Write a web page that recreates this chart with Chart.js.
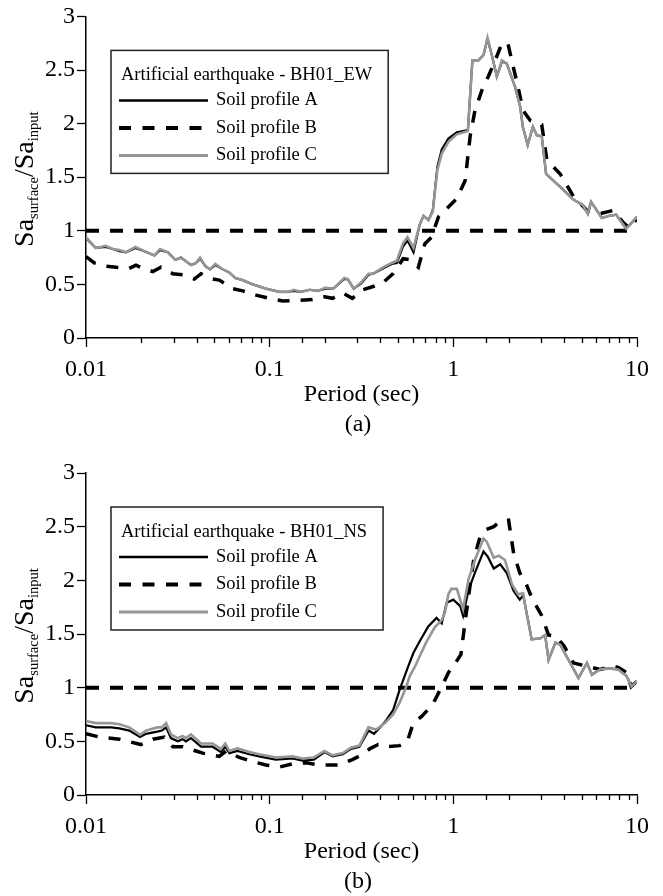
<!DOCTYPE html>
<html>
<head>
<meta charset="utf-8">
<script src="https://cdn.jsdelivr.net/npm/chart.js@4.4.1/dist/chart.umd.min.js"></script>
<style>
  html, body { margin: 0; padding: 0; background: #fff; }
  .panel { position: absolute; left: 0; width: 663px; height: 448px; }
</style>
</head>
<body>
<div class="panel" style="top:0"><canvas id="chartEW" width="663" height="448"></canvas></div>
<div class="panel" style="top:448px"><canvas id="chartNS" width="663" height="448"></canvas></div>
<script>
// (a) BH01_EW
const ewPeriodsAC = [0.01, 0.0113, 0.0128, 0.014, 0.0152, 0.0165, 0.0186, 0.0208, 0.0236, 0.0253,
  0.0279, 0.0306, 0.0329, 0.0373, 0.0397, 0.0418, 0.0447, 0.0473, 0.0506, 0.0556,
  0.0604, 0.065, 0.0713, 0.081, 0.0955, 0.113, 0.125, 0.136, 0.148, 0.165,
  0.183, 0.201, 0.222, 0.255, 0.266, 0.287, 0.315, 0.345, 0.366, 0.416,
  0.462, 0.492, 0.531, 0.563, 0.607, 0.654, 0.688, 0.732, 0.773, 0.819,
  0.865, 0.94, 1.045, 1.2, 1.27, 1.37, 1.46, 1.535, 1.62, 1.725,
  1.84, 1.955, 2.17, 2.31, 2.39, 2.54, 2.71, 2.85, 3.03, 3.2,
  3.82, 4.51, 5.07, 5.4, 5.62, 6.44, 7.08, 7.7, 8.73, 10];
const ewSoilA = [0.93, 0.84, 0.85, 0.83, 0.81, 0.80, 0.84, 0.81, 0.77, 0.82,
  0.80, 0.73, 0.75, 0.68, 0.70, 0.74, 0.67, 0.64, 0.68, 0.64,
  0.61, 0.56, 0.54, 0.50, 0.46, 0.43, 0.43, 0.44, 0.43, 0.45,
  0.44, 0.46, 0.46, 0.55, 0.55, 0.46, 0.51, 0.59, 0.60, 0.65,
  0.69, 0.70, 0.85, 0.91, 0.80, 1.05, 1.14, 1.10, 1.19, 1.60,
  1.76, 1.86, 1.92, 1.94, 2.59, 2.59, 2.64, 2.79, 2.64, 2.44,
  2.58, 2.56, 2.34, 2.16, 1.97, 1.80, 1.97, 1.89, 1.88, 1.53,
  1.41, 1.29, 1.24, 1.16, 1.27, 1.12, 1.14, 1.15, 1.02, 1.13];
const ewSoilC = [0.94, 0.84, 0.86, 0.83, 0.82, 0.80, 0.85, 0.81, 0.77, 0.83,
  0.80, 0.73, 0.75, 0.68, 0.70, 0.75, 0.67, 0.64, 0.69, 0.64,
  0.61, 0.56, 0.54, 0.50, 0.46, 0.43, 0.43, 0.45, 0.43, 0.45,
  0.44, 0.47, 0.46, 0.56, 0.55, 0.46, 0.52, 0.60, 0.60, 0.66,
  0.70, 0.72, 0.88, 0.94, 0.84, 1.05, 1.14, 1.10, 1.18, 1.57,
  1.72, 1.83, 1.90, 1.93, 2.59, 2.59, 2.64, 2.80, 2.64, 2.44,
  2.59, 2.56, 2.34, 2.16, 1.97, 1.80, 1.97, 1.89, 1.88, 1.53,
  1.41, 1.29, 1.24, 1.16, 1.27, 1.12, 1.14, 1.15, 1.02, 1.13];
const ewPeriodsB = [0.01, 0.0111, 0.0129, 0.0146, 0.0172, 0.0187, 0.0204, 0.0231, 0.0256, 0.0297,
  0.0336, 0.0389, 0.0423, 0.0489, 0.0532, 0.0628, 0.0713, 0.0843, 0.0996, 0.118,
  0.139, 0.171, 0.199, 0.22, 0.25, 0.282, 0.322, 0.366, 0.416, 0.47,
  0.533, 0.58, 0.645, 0.70, 0.76, 0.83, 0.925, 1.045, 1.16, 1.234,
  1.31, 1.43, 1.55, 1.69, 1.84, 1.98, 2.1, 2.25, 2.4, 2.62,
  3.03, 3.23, 3.82, 4.51, 5.34, 6.28, 7.4, 8.5, 9.2, 10];
const ewSoilB = [0.76, 0.70, 0.67, 0.66, 0.65, 0.68, 0.65, 0.62, 0.66, 0.60,
  0.59, 0.55, 0.60, 0.55, 0.54, 0.46, 0.44, 0.40, 0.37, 0.345,
  0.35, 0.36, 0.385, 0.37, 0.42, 0.37, 0.45, 0.48, 0.52, 0.60,
  0.74, 0.73, 0.66, 0.88, 0.94, 1.13, 1.21, 1.30, 1.47, 1.88,
  2.12, 2.31, 2.44, 2.59, 2.75, 2.75, 2.56, 2.34, 2.12, 2.03,
  1.99, 1.66, 1.53, 1.32, 1.19, 1.16, 1.19, 1.07, 1.02, 1.12];

// (b) BH01_NS
const nsPeriodsC = [0.01, 0.0113, 0.0137, 0.0152, 0.0172, 0.0197, 0.0212, 0.0244, 0.0259, 0.0273,
  0.029, 0.0316, 0.0336, 0.035, 0.0373, 0.0423, 0.0489, 0.0543, 0.0573, 0.0604,
  0.0668, 0.0775, 0.0876, 0.108, 0.133, 0.151, 0.174, 0.199, 0.22, 0.25,
  0.277, 0.308, 0.345, 0.38, 0.424, 0.47, 0.51, 0.546, 0.58, 0.62,
  0.655, 0.71, 0.79, 0.865, 0.9, 0.94, 0.975, 1.045, 1.13, 1.21,
  1.31, 1.46, 1.52, 1.66, 1.77, 1.91, 2.09, 2.25, 2.4, 2.5,
  2.67, 2.98, 3.16, 3.3, 3.6, 3.82, 4.33, 4.8, 5.34, 5.68,
  6.28, 7.0, 7.9, 8.76, 9.34, 10];
const nsSoilC = [0.69, 0.67, 0.67, 0.66, 0.63, 0.56, 0.60, 0.63, 0.63, 0.67,
  0.565, 0.53, 0.55, 0.53, 0.565, 0.48, 0.48, 0.43, 0.48, 0.41,
  0.435, 0.40, 0.38, 0.35, 0.36, 0.34, 0.35, 0.41, 0.37, 0.39,
  0.44, 0.46, 0.63, 0.61, 0.67, 0.75, 0.86, 0.98, 1.11, 1.20,
  1.29, 1.42, 1.56, 1.63, 1.70, 1.87, 1.92, 1.92, 1.73, 2.01,
  2.19, 2.39, 2.36, 2.21, 2.23, 2.19, 1.96, 1.87, 1.88, 1.70,
  1.45, 1.46, 1.49, 1.26, 1.42, 1.40, 1.23, 1.09, 1.23, 1.12,
  1.17, 1.18, 1.17, 1.11, 1.01, 1.06];
const nsPeriodsA = [0.01, 0.0113, 0.0137, 0.0152, 0.0172, 0.0197, 0.0212, 0.0244, 0.0259, 0.0273,
  0.029, 0.0316, 0.0336, 0.035, 0.0373, 0.0423, 0.0489, 0.0543, 0.0573, 0.0604,
  0.0668, 0.0775, 0.0876, 0.108, 0.133, 0.151, 0.174, 0.199, 0.22, 0.25,
  0.277, 0.308, 0.345, 0.37, 0.424, 0.47, 0.51, 0.56, 0.605, 0.655,
  0.73, 0.81, 0.865, 0.92, 1.0, 1.09, 1.13, 1.21, 1.31, 1.46,
  1.54, 1.66, 1.8, 1.95, 2.13, 2.3, 2.4, 2.55, 2.67, 2.98,
  3.16, 3.3, 3.6, 3.82, 4.33, 4.8, 5.34, 5.68, 6.28, 7.0,
  7.9, 8.76, 9.34, 10];
const nsSoilA = [0.65, 0.63, 0.63, 0.62, 0.60, 0.54, 0.57, 0.59, 0.60, 0.63,
  0.53, 0.50, 0.52, 0.50, 0.53, 0.45, 0.45, 0.40, 0.45, 0.39,
  0.41, 0.38, 0.36, 0.33, 0.34, 0.32, 0.33, 0.40, 0.36, 0.38,
  0.43, 0.45, 0.60, 0.57, 0.68, 0.79, 0.98, 1.17, 1.32, 1.43,
  1.57, 1.65, 1.60, 1.79, 1.82, 1.76, 1.67, 1.91, 2.07, 2.27,
  2.22, 2.11, 2.15, 2.07, 1.90, 1.82, 1.86, 1.63, 1.45, 1.46,
  1.49, 1.26, 1.42, 1.40, 1.23, 1.09, 1.23, 1.12, 1.17, 1.18,
  1.17, 1.11, 1.01, 1.06];
const nsPeriodsB = [0.01, 0.0118, 0.0152, 0.0178, 0.0199, 0.0231, 0.0267, 0.0297, 0.0336, 0.0397,
  0.0432, 0.0532, 0.0578, 0.0682, 0.081, 0.0955, 0.113, 0.133, 0.158, 0.187,
  0.24, 0.282, 0.322, 0.35, 0.39, 0.44, 0.51, 0.56, 0.605, 0.67,
  0.77, 0.865, 0.94, 1.045, 1.1, 1.15, 1.21, 1.29, 1.4, 1.49,
  1.66, 1.8, 2.0, 2.13, 2.3, 2.5, 2.67, 3.03, 3.3, 3.6,
  4.0, 4.51, 5.34, 6.28, 7.4, 7.9, 8.76, 9.3, 10];
const nsSoilB = [0.57, 0.54, 0.52, 0.49, 0.47, 0.52, 0.54, 0.45, 0.45, 0.41,
  0.39, 0.36, 0.41, 0.35, 0.31, 0.28, 0.26, 0.29, 0.30, 0.28,
  0.28, 0.33, 0.38, 0.43, 0.47, 0.45, 0.46, 0.49, 0.67, 0.73,
  0.84, 1.01, 1.14, 1.25, 1.31, 1.57, 1.85, 2.19, 2.41, 2.47,
  2.50, 2.55, 2.56, 2.25, 2.07, 1.96, 1.84, 1.67, 1.49, 1.48,
  1.39, 1.23, 1.20, 1.17, 1.20, 1.19, 1.14, 1.01, 1.06];

// reference ratio = 1
const refPeriods = [0.01, 10];
const refValues = [1, 1];

const yTicks = [0, 0.5, 1, 1.5, 2, 2.5, 3];
const FONT = "'Liberation Serif', 'Times New Roman', serif";

const toPoints = (xs, ys) => xs.map((x, i) => ({ x: x, y: ys[i] }));

const isDecade = (v) => {
  const l = Math.log10(v);
  return Math.abs(l - Math.round(l)) < 1e-6;
};

// minor ticks on the log axis are shorter than the decade ones
const minorTicks = {
  id: "minorTicks",
  afterDraw(chart) {
    const sc = chart.scales.x;
    const ctx = chart.ctx;
    const yb = chart.chartArea.bottom;
    ctx.save();
    ctx.strokeStyle = "#000";
    ctx.lineWidth = 1.3;
    sc.ticks.forEach((t) => {
      if (isDecade(t.value)) return;
      const px = Math.round(sc.getPixelForValue(t.value)) + 0.5;
      ctx.beginPath();
      ctx.moveTo(px, yb);
      ctx.lineTo(px, yb + 5);
      ctx.stroke();
    });
    ctx.restore();
  },
};

// Sa_surface / Sa_input with subscripts
const yTitle = {
  id: "yTitle",
  afterDraw(chart) {
    const ctx = chart.ctx;
    const ca = chart.chartArea;
    const parts = [
      ["Sa", 28, 0],
      ["surface", 14.5, 5],
      ["/", 28, 0],
      ["Sa", 28, 0],
      ["input", 14.5, 5],
    ];
    ctx.save();
    let total = 0;
    const widths = parts.map((p) => {
      ctx.font = p[1] + "px " + FONT;
      const w = ctx.measureText(p[0]).width;
      total += w;
      return w;
    });
    ctx.translate(33, (ca.top + ca.bottom) / 2 + 2);
    ctx.rotate(-Math.PI / 2);
    ctx.fillStyle = "#000";
    ctx.textBaseline = "alphabetic";
    let x = -total / 2;
    parts.forEach((p, i) => {
      ctx.font = p[1] + "px " + FONT;
      ctx.fillText(p[0], x, p[2]);
      x += widths[i];
    });
    ctx.restore();
  },
};

const boxLegend = {
  id: "boxLegend",
  afterDatasetsDraw(chart, args, opts) {
    const ctx = chart.ctx;
    const ca = chart.chartArea;
    const x0 = ca.left + 25;
    const y0 = ca.top + 34;
    ctx.save();
    ctx.font = "18.5px " + FONT;
    const w = 10 + ctx.measureText(opts.title).width + 16;
    const h = 123;
    ctx.fillStyle = "#fff";
    ctx.fillRect(x0, y0, w, h);
    ctx.strokeStyle = "#222";
    ctx.lineWidth = 1.5;
    ctx.strokeRect(x0, y0, w, h);
    ctx.fillStyle = "#000";
    ctx.textBaseline = "middle";
    ctx.fillText(opts.title, x0 + 10, y0 + 25);
    chart.data.datasets
      .filter((ds) => ds.inLegend)
      .forEach((ds, i) => {
        const yy = y0 + 50 + i * 27.5;
        ctx.beginPath();
        ctx.setLineDash(ds.legendDash || []);
        ctx.lineWidth = ds.legendWidth;
        ctx.strokeStyle = ds.borderColor;
        ctx.moveTo(x0 + 8, yy);
        ctx.lineTo(x0 + 97, yy);
        ctx.stroke();
        ctx.setLineDash([]);
        ctx.fillText(ds.label, x0 + 105, yy);
      });
    ctx.restore();
  },
};

const caption = {
  id: "caption",
  afterDraw(chart, args, opts) {
    const ctx = chart.ctx;
    ctx.save();
    ctx.font = "24px " + FONT;
    ctx.fillStyle = "#000";
    ctx.textAlign = "center";
    ctx.textBaseline = "middle";
    ctx.fillText(opts.text, 358, chart.chartArea.bottom + 87);
    ctx.restore();
  },
};

const makeChart = (canvasId, topPad, title, captionText, a, b, c) => {
  const plotBottom = topPad + 322;
  const datasets = [
    {
      label: "Soil profile A",
      data: a,
      borderColor: "#000",
      borderWidth: 2.2,
      legendWidth: 2.5,
      inLegend: true,
      order: 1,
    },
    {
      label: "Soil profile B",
      data: b,
      borderColor: "#000",
      borderWidth: 3.5,
      borderDash: [12, 11],
      legendWidth: 4,
      legendDash: [12, 11.5],
      inLegend: true,
      order: 2,
    },
    {
      label: "Soil profile C",
      data: c,
      borderColor: "rgb(150,150,150)",
      borderWidth: 2.6,
      legendWidth: 3,
      inLegend: true,
      order: 0,
    },
    {
      label: "ratio 1",
      data: toPoints(refPeriods, refValues),
      borderColor: "#000",
      borderWidth: 4,
      borderDash: [13, 11],
      order: 3,
    },
  ];

  new Chart(document.getElementById(canvasId), {
    type: "line",
    data: { datasets: datasets },
    options: {
      responsive: false,
      animation: false,
      layout: { padding: { top: topPad, right: 26, left: 0, bottom: 0 } },
      elements: {
        point: { radius: 0 },
        line: { tension: 0, fill: false, borderCapStyle: "butt" },
      },
      plugins: {
        legend: { display: false },
        tooltip: { enabled: false },
        boxLegend: { title: title },
        caption: { text: captionText },
      },
      scales: {
        x: {
          type: "logarithmic",
          min: 0.01,
          max: 10,
          afterFit: (scale) => {
            scale.height = 448 - plotBottom;
          },
          border: { display: true, color: "#000", width: 1.5 },
          grid: {
            drawOnChartArea: false,
            drawTicks: true,
            tickLength: 9,
            tickWidth: 1.3,
            tickColor: (ctx) => (ctx.tick && isDecade(ctx.tick.value) ? "#000" : "rgba(0,0,0,0)"),
          },
          ticks: {
            autoSkip: false,
            maxRotation: 0,
            padding: 8,
            color: "#000",
            font: { family: FONT, size: 24 },
            callback: (v) => (isDecade(v) ? String(parseFloat(Number(v).toPrecision(6))) : ""),
          },
          title: {
            display: true,
            text: "Period (sec)",
            color: "#000",
            font: { family: FONT, size: 24 },
            padding: { top: 0, bottom: 448 - (plotBottom + 57) - 14.4 },
          },
        },
        y: {
          min: 0,
          max: 3,
          afterFit: (scale) => {
            scale.width = 86;
          },
          afterBuildTicks: (scale) => {
            scale.ticks = yTicks.map((v) => ({ value: v }));
          },
          border: { display: true, color: "#000", width: 1.5 },
          grid: {
            drawOnChartArea: false,
            drawTicks: true,
            tickLength: 9,
            tickWidth: 1.3,
            tickColor: "#000",
          },
          ticks: {
            padding: 2,
            color: "#000",
            font: { family: FONT, size: 24 },
            callback: (v) => String(v),
          },
        },
      },
    },
    plugins: [minorTicks, yTitle, boxLegend, caption],
  });
};

makeChart("chartEW", 16, "Artificial earthquake - BH01_EW", "(a)",
  toPoints(ewPeriodsAC, ewSoilA), toPoints(ewPeriodsB, ewSoilB), toPoints(ewPeriodsAC, ewSoilC));
makeChart("chartNS", 25, "Artificial earthquake - BH01_NS", "(b)",
  toPoints(nsPeriodsA, nsSoilA), toPoints(nsPeriodsB, nsSoilB), toPoints(nsPeriodsC, nsSoilC));
</script>
</body>
</html>
